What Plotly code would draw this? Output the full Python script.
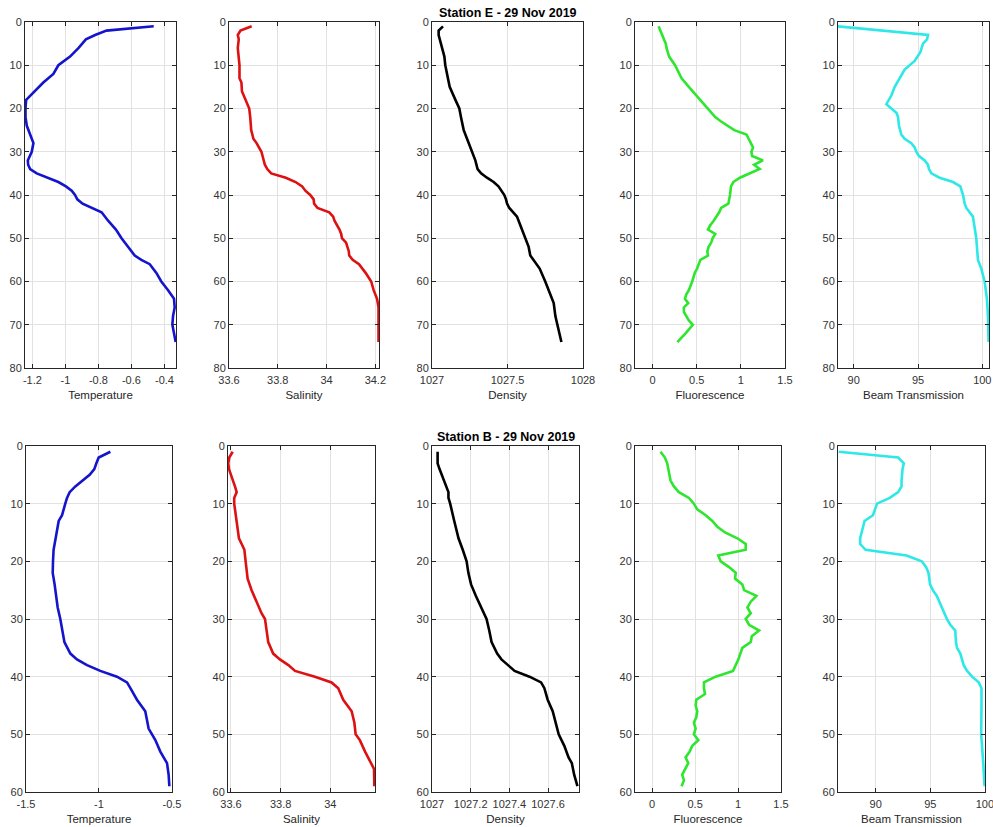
import plotly.graph_objects as go

W, H = 993, 827

# ---------------- Station E - 29 Nov 2019 ----------------
e_temp_depth = [1, 2, 3, 4, 6, 8, 10, 12, 14, 16, 18, 20, 22, 24, 26, 28, 30, 31, 32, 33, 34, 35, 36, 37,
                38, 39, 40, 41, 42, 43, 44, 46, 48, 50, 52, 54, 55, 56, 58, 60, 62, 64, 66, 68, 70, 72, 74]
e_temp = [-0.465, -0.751, -0.82, -0.876, -0.92, -0.972, -1.043, -1.073, -1.134, -1.184, -1.238, -1.242,
          -1.242, -1.234, -1.214, -1.194, -1.204, -1.218, -1.228, -1.226, -1.214, -1.174, -1.103, -1.043,
          -0.997, -0.962, -0.942, -0.928, -0.896, -0.841, -0.781, -0.74, -0.694, -0.66, -0.62, -0.58,
          -0.54, -0.489, -0.449, -0.419, -0.378, -0.342, -0.338, -0.348, -0.352, -0.344, -0.332]

e_sal_depth = [1, 2, 3, 4, 6, 8, 10, 13, 14, 16, 18, 20, 22, 25, 27, 28, 30, 32, 33, 34, 35, 36, 37, 38,
               39, 40, 41, 42, 43, 44, 45, 46, 47, 48, 49, 50, 51, 52, 53, 54, 55, 56, 58, 60, 62, 64, 66,
               70, 74]
e_sal = [33.693, 33.647, 33.636, 33.64, 33.636, 33.64, 33.643, 33.643, 33.651, 33.653, 33.667, 33.683,
         33.687, 33.691, 33.7, 33.713, 33.733, 33.744, 33.747, 33.757, 33.773, 33.833, 33.873, 33.9,
         33.913, 33.933, 33.947, 33.949, 33.963, 34.011, 34.027, 34.033, 34.044, 34.053, 34.06, 34.063,
         34.08, 34.087, 34.091, 34.093, 34.107, 34.133, 34.16, 34.183, 34.193, 34.207, 34.213, 34.213,
         34.213]

e_dens_depth = [1, 1.5, 2, 3, 5, 8, 10, 13, 15, 18, 20, 22, 25, 27, 30, 32, 34, 35, 36, 37, 38, 40, 41,
                42, 43, 45, 47, 48, 50, 52, 54, 55, 57, 60, 63, 65, 68, 71, 74]
e_dens = [1027.073, 1027.055, 1027.044, 1027.044, 1027.06, 1027.082, 1027.088, 1027.104, 1027.117,
          1027.155, 1027.181, 1027.192, 1027.21, 1027.232, 1027.265, 1027.287, 1027.302, 1027.325,
          1027.364, 1027.408, 1027.44, 1027.479, 1027.49, 1027.497, 1027.512, 1027.563, 1027.585,
          1027.596, 1027.614, 1027.64, 1027.651, 1027.673, 1027.713, 1027.75, 1027.784, 1027.806,
          1027.817, 1027.839, 1027.857]

e_fluo_depth = [1, 3, 5, 6, 8, 10, 12, 13, 15, 17, 19, 21, 22, 23, 25, 26, 27, 28, 29, 30, 31, 32, 33,
                34, 35, 36, 37, 38, 40, 42, 43, 44, 46, 47, 48, 49, 50, 51, 52, 53, 54, 55, 57, 58, 60,
                62, 63, 64, 65, 66, 67, 68, 69, 70, 72, 74]
e_fluo = [0.067, 0.104, 0.149, 0.157, 0.187, 0.254, 0.299, 0.328, 0.41, 0.496, 0.578, 0.664, 0.709,
          0.776, 0.925, 1.063, 1.09, 1.112, 1.138, 1.119, 1.127, 1.25, 1.149, 1.213, 1.101, 0.989,
          0.914, 0.888, 0.877, 0.858, 0.776, 0.754, 0.69, 0.653, 0.627, 0.709, 0.679, 0.664, 0.634,
          0.62, 0.627, 0.541, 0.504, 0.478, 0.448, 0.41, 0.381, 0.366, 0.403, 0.354, 0.354, 0.381,
          0.41, 0.455, 0.373, 0.28]

e_beam_depth = [1, 3, 4, 5, 7, 9, 11, 13, 15, 17, 19, 20, 21, 22, 24, 26, 27, 28, 29, 30, 31, 32, 33,
                34, 35, 36, 37, 38, 40, 42, 43, 45, 48, 50, 55, 57, 60, 64, 68, 74]
e_beam = [88.78, 95.78, 95.7, 95.39, 95.18, 94.74, 93.96, 93.58, 93.19, 92.93, 92.54, 92.93, 93.32,
          93.45, 93.52, 93.7, 93.96, 94.48, 94.74, 94.87, 95.08, 95.52, 95.78, 95.85, 96.04, 96.68,
          97.72, 98.29, 98.5, 98.63, 98.76, 99.27, 99.4, 99.53, 99.66, 99.92, 100.18, 100.36, 100.44,
          100.49]

# ---------------- Station B - 29 Nov 2019 ----------------
b_temp_depth = [1, 2, 3, 4, 5, 6, 7, 8, 9, 10, 12, 13, 15, 18, 20, 22, 24, 26, 28, 30, 32, 34, 36, 37,
                38, 39, 40, 41, 42, 44, 46, 48, 49, 51, 53, 55, 57, 59]
b_temp = [-0.922, -1.002, -1.018, -1.032, -1.064, -1.116, -1.162, -1.201, -1.219, -1.231, -1.253,
          -1.276, -1.292, -1.311, -1.315, -1.317, -1.304, -1.295, -1.283, -1.265, -1.253, -1.237,
          -1.196, -1.151, -1.082, -0.991, -0.877, -0.808, -0.785, -0.74, -0.683, -0.671, -0.66,
          -0.614, -0.58, -0.534, -0.523, -0.518]

b_sal_depth = [1, 2, 3, 4, 5, 6, 7, 8, 9, 10, 12, 14, 16, 17, 18, 20, 22, 23, 25, 27, 29, 30, 32, 34,
               36, 37, 38, 39, 40, 41, 42, 44, 46, 48, 50, 51, 53, 54, 55, 56, 58, 59]
b_sal = [33.607, 33.593, 33.589, 33.592, 33.6, 33.609, 33.616, 33.623, 33.613, 33.613, 33.619,
         33.626, 33.632, 33.643, 33.654, 33.659, 33.663, 33.667, 33.683, 33.703, 33.723, 33.737,
         33.744, 33.75, 33.77, 33.797, 33.831, 33.858, 33.938, 34.005, 34.032, 34.052, 34.086,
         34.097, 34.102, 34.119, 34.14, 34.153, 34.166, 34.176, 34.177, 34.177]

b_dens_depth = [1, 3, 4, 6, 8, 9, 10, 13, 16, 18, 20, 22, 24, 26, 28, 30, 32, 34, 36, 37, 38, 39, 40,
                41, 42, 44, 46, 48, 50, 52, 54, 55, 57, 59]
b_dens = [1027.029, 1027.029, 1027.039, 1027.06, 1027.085, 1027.085, 1027.094, 1027.115, 1027.137,
          1027.159, 1027.179, 1027.188, 1027.202, 1027.227, 1027.256, 1027.282, 1027.296, 1027.308,
          1027.337, 1027.359, 1027.393, 1027.427, 1027.504, 1027.564, 1027.581, 1027.598, 1027.624,
          1027.641, 1027.655, 1027.684, 1027.706, 1027.723, 1027.735, 1027.752]

b_fluo_depth = [1, 2, 3, 4, 5, 6, 7, 8, 9, 10, 11, 12, 13, 14, 15, 16, 17, 18, 19, 20, 21, 22, 23, 24,
                25, 26, 27, 28, 29, 30, 31, 32, 33, 34, 35, 37, 39, 40, 41, 42, 43, 44, 45, 46, 47, 48,
                49, 50, 51, 52, 53, 54, 55, 56, 57, 58, 59]
b_fluo = [0.097, 0.148, 0.175, 0.187, 0.2, 0.214, 0.253, 0.311, 0.428, 0.486, 0.525, 0.623, 0.7,
          0.759, 0.848, 0.992, 1.089, 1.089, 0.77, 0.798, 0.895, 0.973, 0.965, 1.05, 1.07, 1.214,
          1.148, 1.109, 1.148, 1.089, 1.128, 1.245, 1.16, 1.148, 1.05, 1.004, 0.942, 0.739, 0.603,
          0.603, 0.615, 0.514, 0.506, 0.525, 0.514, 0.486, 0.506, 0.486, 0.537, 0.467, 0.436, 0.389,
          0.42, 0.389, 0.35, 0.37, 0.342]

b_beam_depth = [1, 2, 3, 4, 6, 7, 8, 9, 10, 11, 12, 13, 14, 16, 17, 18, 19, 20, 21, 22, 24, 25, 26,
                28, 30, 31, 32, 34, 35, 36, 37, 38, 39, 40, 41, 42, 45, 50, 55, 59]
b_beam = [86.62, 92.06, 92.58, 92.46, 92.37, 92.37, 92.06, 91.29, 90.12, 89.91, 89.75, 88.98, 88.83,
          88.58, 88.58, 89.08, 92.83, 94.22, 94.62, 94.83, 94.98, 95.23, 95.6, 96.06, 96.52, 96.83,
          97.29, 97.35, 97.45, 97.75, 97.91, 98.06, 98.37, 98.83, 99.45, 99.69, 99.69, 99.66, 99.85,
          99.97]

# ---------------- Axis labels / ticks ----------------
x_labels = ["Temperature", "Salinity", "Density", "Fluorescence", "Beam Transmission"]
titles = ["Station E - 29 Nov 2019", "Station B - 29 Nov 2019"]
depth_ticks = [0, 10, 20, 30, 40, 50, 60, 70, 80]

e_ticks = [
    ([-1.2, -1, -0.8, -0.6, -0.4], ["-1.2", "-1", "-0.8", "-0.6", "-0.4"]),
    ([33.6, 33.8, 34, 34.2], ["33.6", "33.8", "34", "34.2"]),
    ([1027, 1027.5, 1028], ["1027", "1027.5", "1028"]),
    ([0, 0.5, 1, 1.5], ["0", "0.5", "1", "1.5"]),
    ([90, 95, 100], ["90", "95", "100"]),
]
b_ticks = [
    ([-1.5, -1, -0.5], ["-1.5", "-1", "-0.5"]),
    ([33.6, 33.8, 34], ["33.6", "33.8", "34"]),
    ([1027, 1027.2, 1027.4, 1027.6], ["1027", "1027.2", "1027.4", "1027.6"]),
    ([0, 0.5, 1, 1.5], ["0", "0.5", "1", "1.5"]),
    ([90, 95, 100], ["90", "95", "100"]),
]
e_ranges = [[-1.245, -0.33], [33.6, 34.215], [1027, 1028], [-0.2, 1.5], [88.78, 100.52]]
b_ranges = [[-1.5, -0.4999], [33.588, 34.18], [1027, 1027.76], [-0.2, 1.5001], [86.55, 100.01]]

colors = ["#1414cc", "#dd1111", "#000000", "#2ee62e", "#2ee8e8"]

e_series = [(e_temp_depth, e_temp), (e_sal_depth, e_sal), (e_dens_depth, e_dens),
            (e_fluo_depth, e_fluo), (e_beam_depth, e_beam)]
b_series = [(b_temp_depth, b_temp), (b_sal_depth, b_sal), (b_dens_depth, b_dens),
            (b_fluo_depth, b_fluo), (b_beam_depth, b_beam)]

# pixel layout of the axes boxes
top_px_x = [(25, 176), (229, 379), (432, 583), (635, 785), (838, 989)]
bot_px_x = [(26, 172), (228, 375), (432, 579), (635, 781), (838, 985)]
top_px_y = (22, 368)
bot_px_y = (446, 792)

FONT = "Liberation Sans, Arial, Helvetica, sans-serif"
fig = go.Figure()
layout = {}

rows = [
    (e_series, e_ticks, e_ranges, top_px_x, top_px_y, 80),
    (b_series, b_ticks, b_ranges, bot_px_x, bot_px_y, 60),
]
idx = 0
for r, (series, ticks, ranges, pxx, pxy, ymax) in enumerate(rows):
    for c in range(5):
        idx += 1
        d, v = series[c]
        xname = "x" if idx == 1 else f"x{idx}"
        yname = "y" if idx == 1 else f"y{idx}"
        fig.add_trace(go.Scatter(x=v, y=d, mode="lines", xaxis=xname, yaxis=yname,
                                 line=dict(color=colors[c], width=2.6), showlegend=False,
                                 hoverinfo="x+y"))
        common = dict(showline=True, linecolor="#262626", linewidth=1, mirror="ticks",
                      ticks="inside", ticklen=4, tickcolor="#262626", showgrid=True,
                      gridcolor="#e2e2e2", gridwidth=1, zeroline=False, automargin=False,
                      ticklabeloverflow="allow",
                      tickfont=dict(family=FONT, size=11, color="#333333"))
        layout["xaxis" if idx == 1 else f"xaxis{idx}"] = dict(
            common, domain=[pxx[c][0] / W, pxx[c][1] / W], anchor=yname,
            range=ranges[c], tickmode="array", tickvals=ticks[c][0], ticktext=ticks[c][1],
            ticklabelstandoff=2,
            title=dict(text=x_labels[c], font=dict(family=FONT, size=11.5, color="#262626"), standoff=5))
        layout["yaxis" if idx == 1 else f"yaxis{idx}"] = dict(
            common, domain=[1 - pxy[1] / H, 1 - pxy[0] / H], anchor=xname,
            range=[ymax, 0], tickmode="array",
            tickvals=[t for t in depth_ticks if t <= ymax],
            ticktext=[str(t) for t in depth_ticks if t <= ymax])

annotations = []
for r, (pxx, pxy) in enumerate([(top_px_x, top_px_y), (bot_px_x, bot_px_y)]):
    cx = (pxx[2][0] + pxx[2][1]) / 2 / W
    annotations.append(dict(text="<b>" + titles[r] + "</b>", x=cx, y=1 - (pxy[0] - 9) / H,
                            xref="paper", yref="paper", xanchor="center", yanchor="middle",
                            showarrow=False, font=dict(family=FONT, size=12.5, color="#000000")))

fig.update_layout(**layout)
fig.update_layout(width=W, height=H, margin=dict(l=0, r=0, t=0, b=0),
                  paper_bgcolor="white", plot_bgcolor="white", annotations=annotations)
fig.write_html("out.html", config={"displayModeBar": False},
               post_script="document.body.style.margin='0px';")
